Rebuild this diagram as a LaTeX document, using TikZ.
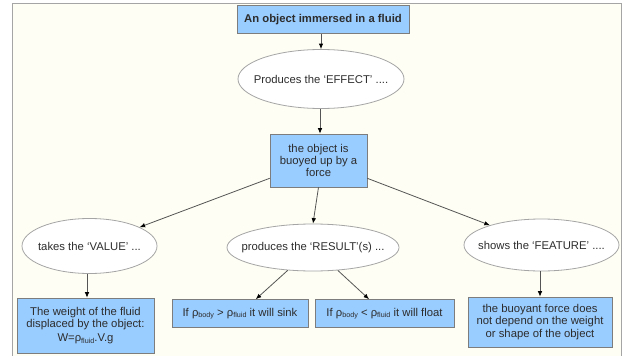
\documentclass[tikz,border=0pt]{standalone}
\usepackage{fontspec}
\setmainfont{Liberation Sans}
\usetikzlibrary{shapes.geometric,arrows.meta}

\definecolor{boxblue}{RGB}{153,204,255}
\definecolor{boxline}{RGB}{125,125,125}
\definecolor{ovalline}{RGB}{165,165,165}
\definecolor{paper}{RGB}{254,254,244}
\definecolor{framegray}{RGB}{165,165,165}
\definecolor{ink}{RGB}{45,45,45}
\definecolor{wire}{RGB}{85,85,85}

% density symbol with a small, slightly lowered index
\newcommand\rhosub[1]{ρ\raisebox{-1.3pt}{\fontsize{7.2}{8}\selectfont #1}}

\begin{document}
\begin{tikzpicture}[x=1pt,y=-1pt,
  font=\fontsize{11.3}{12.3}\selectfont,
  every node/.style={text=ink, align=center},
  bluebox/.style={rectangle, draw=boxline, fill=boxblue, line width=0.6pt, inner sep=0pt},
  oval/.style={ellipse, draw=ovalline, fill=white, line width=0.8pt, inner xsep=-40pt, inner ysep=0pt},
  link/.style={draw=wire, line width=0.8pt, -{Latex[length=5.5pt,width=4.5pt,color=black]}}
]
% page and frame
\useasboundingbox (0,0) rectangle (624,356);
\fill[white] (0,0) rectangle (624,356);
\fill[paper] (12,3) rectangle (621,356);
\draw[framegray, line width=0.8pt] (12,356) -- (12,3) -- (621,3) -- (621,356);

% concept nodes
\node[bluebox, minimum width=172pt, minimum height=28pt, font=\fontsize{11.3}{12.3}\selectfont\bfseries]
  (object) at (323,19.5) {An object immersed in a fluid};
\node[oval, minimum width=166pt, minimum height=59pt] (effect) at (321,79) {Produces the ‘EFFECT’ ....};
\node[bluebox, minimum width=97pt, minimum height=53pt] (force) at (318.5,160.5)
  {the object is\\buoyed up by a\\force};

\node[oval, minimum width=135pt, minimum height=55pt] (value) at (89.5,246) {takes the ‘VALUE’ ...};
\node[oval, minimum width=172pt, minimum height=47pt] (result) at (313,247.5) {produces the ‘RESULT’(s) ...};
\node[oval, minimum width=155pt, minimum height=52pt] (feature) at (541.5,245) {shows the ‘FEATURE’ ....};

\node[bluebox, minimum width=137pt, minimum height=55pt] (weight) at (85.5,325.5)
  {The weight of the fluid\\displaced by the object:\\[2pt]W=\rhosub{fluid}.V.g};
\node[bluebox, minimum width=136pt, minimum height=28pt] (sink) at (240,313.5)
  {If \rhosub{body} > \rhosub{fluid} it will sink};
\node[bluebox, minimum width=139pt, minimum height=28pt] (float) at (384.5,313.5)
  {If \rhosub{body} < \rhosub{fluid} it will float};
\node[bluebox, minimum width=144pt, minimum height=50pt] (buoyant) at (540,322)
  {the buoyant force does\\not depend on the weight\\or shape of the object};

% connectors
\draw[link] (object.south -| effect.north) -- (effect.north);
\draw[link] (effect.south -| 320,0) -- (force.north -| 320,0);
\draw[link] ([yshift=9pt]force.south west) -- (value);
\draw[link] (force.south) -- (result.north);
\draw[link] ([yshift=9pt]force.south east) -- (feature);
\draw[link] (value.south -| 87,0) -- (weight.north -| 87,0);
\draw[link] (result) -- (sink);
\draw[link] (result) -- (float);
\draw[link] (feature.south -| 540,0) -- (buoyant.north -| 540,0);
\end{tikzpicture}
\end{document}
